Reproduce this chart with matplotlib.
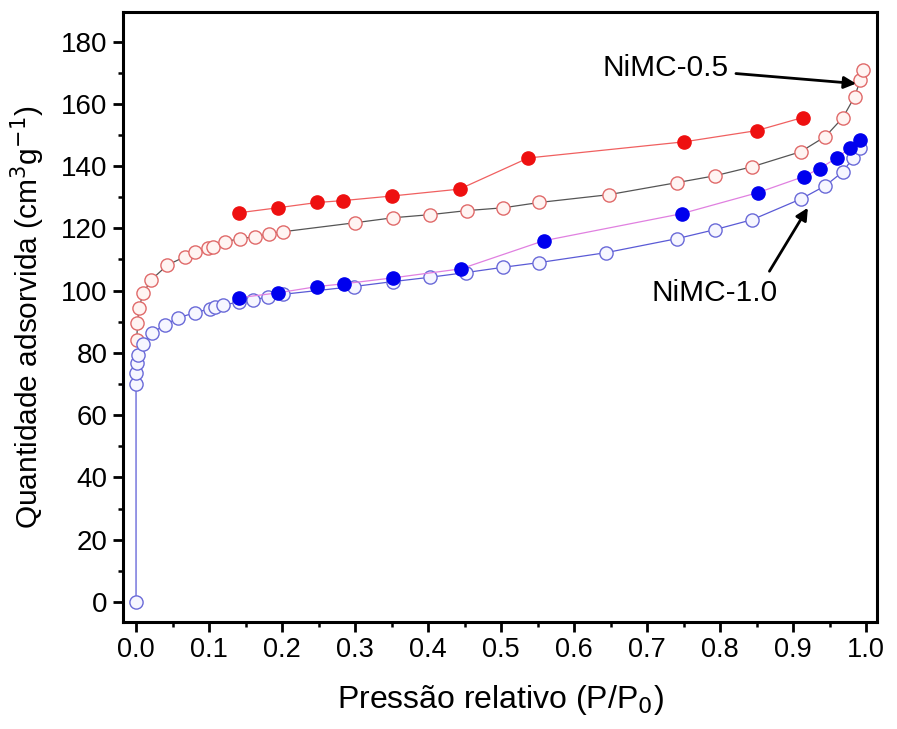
import matplotlib
matplotlib.use("Agg")
import matplotlib.pyplot as plt
from matplotlib.ticker import MultipleLocator, FormatStrFormatter

plt.rcParams["font.family"] = ["Liberation Sans", "DejaVu Sans"]
narrow = ["Liberation Sans Narrow", "Liberation Sans", "DejaVu Sans"]

# NiMC-0.5 adsorption (open) / desorption (filled)
x05_ads = [0.001, 0.002, 0.004, 0.010, 0.021, 0.043, 0.067, 0.081, 0.099, 0.105, 0.122,
           0.142, 0.163, 0.182, 0.201, 0.300, 0.352, 0.403, 0.453, 0.503, 0.552, 0.647,
           0.741, 0.793, 0.844, 0.910, 0.944, 0.968, 0.984, 0.992, 0.996]
y05_ads = [84.0, 89.5, 94.5, 99.3, 103.5, 108.2, 110.9, 112.5, 113.8, 114.1, 115.7,
           116.7, 117.3, 118.3, 118.9, 121.8, 123.4, 124.4, 125.7, 126.6, 128.3, 130.8,
           134.7, 136.9, 139.8, 144.6, 149.5, 155.6, 162.3, 167.8, 171.0]
x05_des = [0.141, 0.194, 0.248, 0.283, 0.351, 0.443, 0.537, 0.751, 0.850, 0.913]
y05_des = [125.0, 126.6, 128.3, 128.9, 130.4, 132.6, 142.6, 147.8, 151.4, 155.6]

# NiMC-1.0 adsorption (open) / desorption (filled)
x10_ads = [0.000, 0.000, 0.000, 0.001, 0.003, 0.010, 0.022, 0.040, 0.058, 0.081, 0.101,
           0.108, 0.119, 0.141, 0.160, 0.181, 0.201, 0.298, 0.352, 0.403, 0.452, 0.503,
           0.552, 0.644, 0.741, 0.793, 0.844, 0.911, 0.944, 0.968, 0.982, 0.992]
y10_ads = [0.0, 70.0, 73.6, 76.8, 79.4, 83.0, 86.5, 89.0, 91.3, 92.9, 94.2,
           94.8, 95.5, 96.2, 97.0, 98.0, 98.8, 101.3, 102.9, 104.3, 105.8, 107.5,
           109.0, 112.2, 116.7, 119.6, 122.8, 129.5, 133.7, 138.2, 142.7, 145.9]
x10_des = [0.141, 0.195, 0.248, 0.285, 0.352, 0.445, 0.558, 0.747, 0.852, 0.914, 0.936,
           0.960, 0.978, 0.992]
y10_des = [97.7, 99.3, 101.3, 102.2, 104.1, 107.0, 116.0, 124.7, 131.5, 136.6, 139.2,
           142.7, 145.9, 148.5]

fig = plt.figure(figsize=(8.97, 7.29), dpi=100)
ax = fig.add_axes([0.137, 0.147, 0.841, 0.837])

ms = 9.5
ax.plot(x05_ads, y05_ads, "-o", color="#555555", lw=0.9, ms=ms,
        mfc="#fff4f2", mec="#e06a6a", mew=1.0, zorder=2)
ax.plot(x10_ads, y10_ads, "-o", color="#5a5ad6", lw=0.9, ms=ms,
        mfc="#f6f6ff", mec="#6a6ad8", mew=1.0, zorder=3)
ax.plot(x10_des, y10_des, "-o", color="#e080e0", lw=0.9, ms=ms,
        mfc="#0000ee", mec="#0000ee", zorder=4)
ax.plot(x05_des, y05_des, "-o", color="#f06060", lw=0.9, ms=ms,
        mfc="#ee1010", mec="#ee1010", zorder=4)

ax.annotate("NiMC-0.5", xy=(0.986, 166.5), xytext=(0.812, 171.6),
            fontsize=21.5, ha="right", va="center",
            arrowprops=dict(arrowstyle="-|>", color="black", lw=2.0, mutation_scale=18,
                            shrinkA=3, shrinkB=0))
ax.annotate("NiMC-1.0", xy=(0.92, 126.6), xytext=(0.792, 99.3),
            fontsize=21.5, ha="center", va="center",
            arrowprops=dict(arrowstyle="-|>", color="black", lw=2.0, mutation_scale=18,
                            relpos=(0.9, 1.0), shrinkA=4, shrinkB=0))

ax.set_xlim(-0.018, 1.015)
ax.set_ylim(-6.4, 189.6)
ax.xaxis.set_major_locator(MultipleLocator(0.1))
ax.xaxis.set_minor_locator(MultipleLocator(0.05))
ax.yaxis.set_major_locator(MultipleLocator(20))
ax.yaxis.set_minor_locator(MultipleLocator(10))
ax.xaxis.set_major_formatter(FormatStrFormatter("%.1f"))
ax.tick_params(which="major", direction="out", length=7.5, width=2.0)
ax.tick_params(which="minor", direction="out", length=3.5, width=1.8)
for lab in ax.get_xticklabels():
    lab.set_family(narrow)
    lab.set_fontsize(19.5)
for lab in ax.get_yticklabels():
    lab.set_family(narrow)
    lab.set_fontsize(20)
for s in ax.spines.values():
    s.set_linewidth(2.2)

ax.set_xlabel("Pressão relativo (P/P$_0$)", fontsize=23, labelpad=14)
ax.set_ylabel("Quantidade adsorvida (cm$^3$g$^{-1}$)", fontsize=21.5, labelpad=10)

fig.savefig("out.png", dpi=100)
